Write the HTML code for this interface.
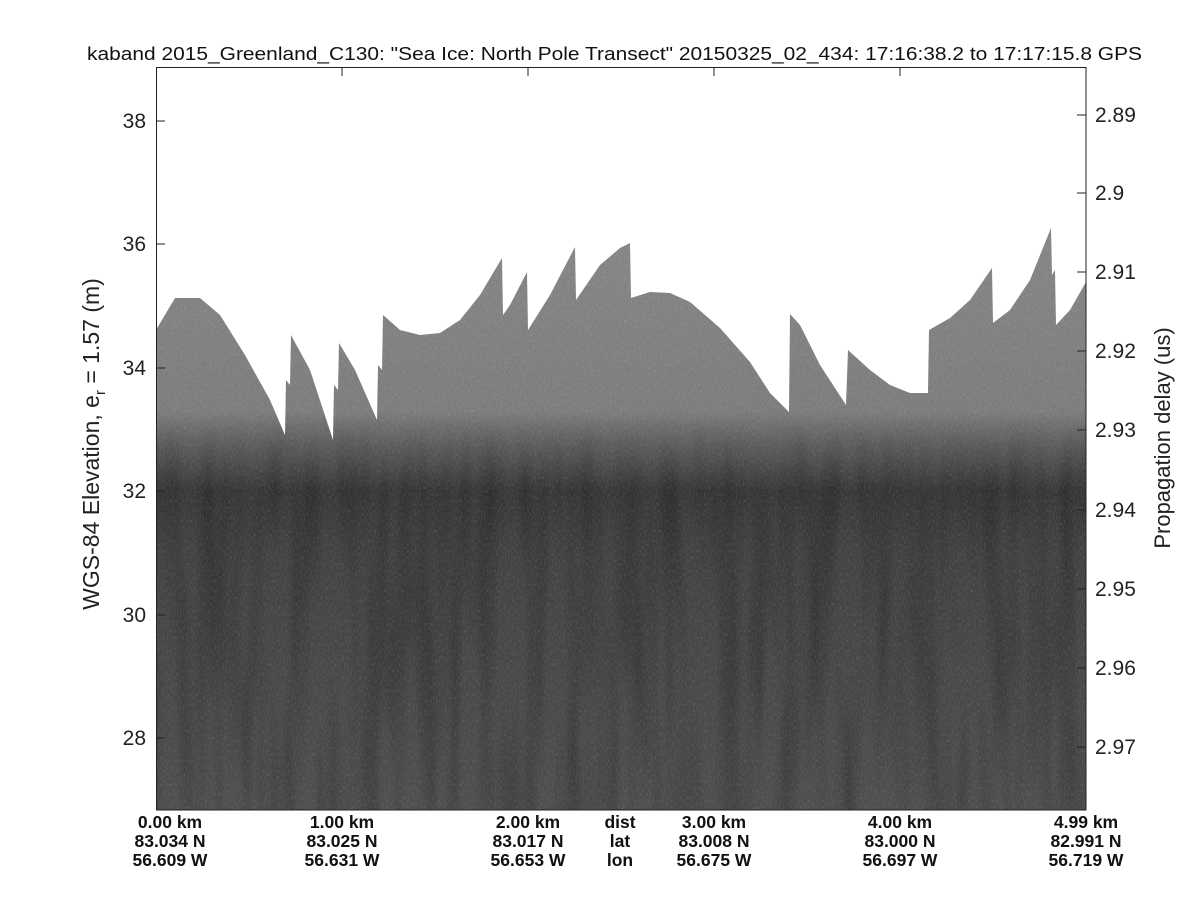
<!DOCTYPE html>
<html><head><style>
body{margin:0;background:#fff;width:1200px;height:900px;overflow:hidden;font-family:"Liberation Sans",sans-serif}
</style></head><body>
<svg width="1200" height="900" xmlns="http://www.w3.org/2000/svg" font-family="Liberation Sans, DejaVu Sans, sans-serif">
<defs>
<clipPath id="c"><polygon points="156,330 175,298 200,298 220,315 245,355 270,400 285,435 286,380 290,385 291,335 310,370 333,440 334,385 338,390 339,343 355,370 377,420 378,365 382,370 383,315 400,330 420,335 440,333 460,320 480,295 502,258 503,315 510,305 527,272 528,330 550,295 575,247 576,300 600,265 620,248 630,243 631,298 650,292 670,293 690,302 720,328 750,362 770,393 789,412 790,314 800,325 820,365 846,405 848,350 870,370 890,385 910,393 928,393 929,330 950,318 970,300 992,268 993,323 1010,310 1030,280 1051,228 1052,275 1055,270 1056,325 1070,310 1086,282 1086,810 156,810"/></clipPath>
<linearGradient id="g" x1="0" y1="240" x2="0" y2="810" gradientUnits="userSpaceOnUse">
<stop offset="0" stop-color="#858585"/>
<stop offset="0.3" stop-color="#7c7c7c"/>
<stop offset="0.36" stop-color="#5c5c5c"/>
<stop offset="0.44" stop-color="#383838"/>
<stop offset="0.55" stop-color="#424242"/>
<stop offset="1" stop-color="#4e4e4e"/>
</linearGradient>
<linearGradient id="mg" x1="0" y1="420" x2="0" y2="810" gradientUnits="userSpaceOnUse">
<stop offset="0" stop-color="#000"/>
<stop offset="0.15" stop-color="#fff"/>
<stop offset="1" stop-color="#fff"/>
</linearGradient>
<mask id="m" maskUnits="userSpaceOnUse" x="156" y="420" width="930" height="390"><rect x="156" y="420" width="930" height="390" fill="url(#mg)"/></mask>
<filter id="n" filterUnits="userSpaceOnUse" x="156" y="200" width="930" height="610"><feTurbulence type="fractalNoise" baseFrequency="0.9 0.3" numOctaves="2" seed="3"/><feColorMatrix values="0 0 0 0 1  0 0 0 0 1  0 0 0 0 1  2 0 0 0 -0.9"/></filter>
<filter id="s" filterUnits="userSpaceOnUse" x="156" y="420" width="930" height="390"><feTurbulence type="fractalNoise" baseFrequency="0.05 0.004" numOctaves="2" seed="7"/><feColorMatrix values="0 0 0 0 0  0 0 0 0 0  0 0 0 0 0  2 0 0 0 -0.8"/></filter>
</defs>
<g clip-path="url(#c)">
<rect x="156" y="200" width="930" height="610" fill="url(#g)"/>
<g mask="url(#m)"><rect x="156" y="420" width="930" height="390" filter="url(#s)" opacity="0.25"/></g>
<rect x="156" y="200" width="930" height="610" filter="url(#n)" opacity="0.15"/>
</g>
<rect x="156.5" y="67.5" width="929.5" height="742.5" fill="none" stroke="#222" stroke-width="1"/>
<g stroke="#222" stroke-width="1">
<line x1="156" y1="121" x2="165" y2="121"/><line x1="156" y1="244" x2="165" y2="244"/><line x1="156" y1="368" x2="165" y2="368"/><line x1="156" y1="491" x2="165" y2="491"/><line x1="156" y1="615" x2="165" y2="615"/><line x1="156" y1="738" x2="165" y2="738"/>
<line x1="1077" y1="115" x2="1086" y2="115"/><line x1="1077" y1="193" x2="1086" y2="193"/><line x1="1077" y1="272" x2="1086" y2="272"/><line x1="1077" y1="351" x2="1086" y2="351"/><line x1="1077" y1="430" x2="1086" y2="430"/><line x1="1077" y1="510" x2="1086" y2="510"/><line x1="1077" y1="589" x2="1086" y2="589"/><line x1="1077" y1="668" x2="1086" y2="668"/><line x1="1077" y1="747" x2="1086" y2="747"/>
<line x1="342" y1="67" x2="342" y2="76"/><line x1="528" y1="67" x2="528" y2="76"/><line x1="714" y1="67" x2="714" y2="76"/><line x1="900" y1="67" x2="900" y2="76"/>
</g>
<text x="87" y="60" font-size="18" fill="#111" textLength="1055" lengthAdjust="spacingAndGlyphs">kaband 2015_Greenland_C130: "Sea Ice: North Pole Transect"  20150325_02_434: 17:16:38.2 to 17:17:15.8 GPS</text>
<g font-size="21" fill="#222" text-anchor="end">
<text x="146" y="128">38</text><text x="146" y="251">36</text><text x="146" y="375">34</text><text x="146" y="498">32</text><text x="146" y="622">30</text><text x="146" y="745">28</text>
</g>
<g font-size="21" fill="#222">
<text x="1095" y="122">2.89</text><text x="1095" y="200">2.9</text><text x="1095" y="279">2.91</text><text x="1095" y="358">2.92</text><text x="1095" y="437">2.93</text><text x="1095" y="517">2.94</text><text x="1095" y="596">2.95</text><text x="1095" y="675">2.96</text><text x="1095" y="754">2.97</text>
</g>
<text transform="translate(99,444) rotate(-90)" font-size="23" fill="#222" text-anchor="middle">WGS-84 Elevation, e<tspan font-size="15" dy="6">r</tspan><tspan dy="-6"> = 1.57 (m)</tspan></text>
<text transform="translate(1170,438) rotate(-90)" font-size="22" fill="#222" text-anchor="middle">Propagation delay (us)</text>
<g font-size="17.5" font-weight="bold" fill="#111" text-anchor="middle">
<text x="170" y="828">0.00 km</text><text x="170" y="847">83.034 N</text><text x="170" y="866">56.609 W</text>
<text x="342" y="828">1.00 km</text><text x="342" y="847">83.025 N</text><text x="342" y="866">56.631 W</text>
<text x="528" y="828">2.00 km</text><text x="528" y="847">83.017 N</text><text x="528" y="866">56.653 W</text>
<text x="620" y="828">dist</text><text x="620" y="847">lat</text><text x="620" y="866">lon</text>
<text x="714" y="828">3.00 km</text><text x="714" y="847">83.008 N</text><text x="714" y="866">56.675 W</text>
<text x="900" y="828">4.00 km</text><text x="900" y="847">83.000 N</text><text x="900" y="866">56.697 W</text>
<text x="1086" y="828">4.99 km</text><text x="1086" y="847">82.991 N</text><text x="1086" y="866">56.719 W</text>
</g>
</svg>
</body></html>
